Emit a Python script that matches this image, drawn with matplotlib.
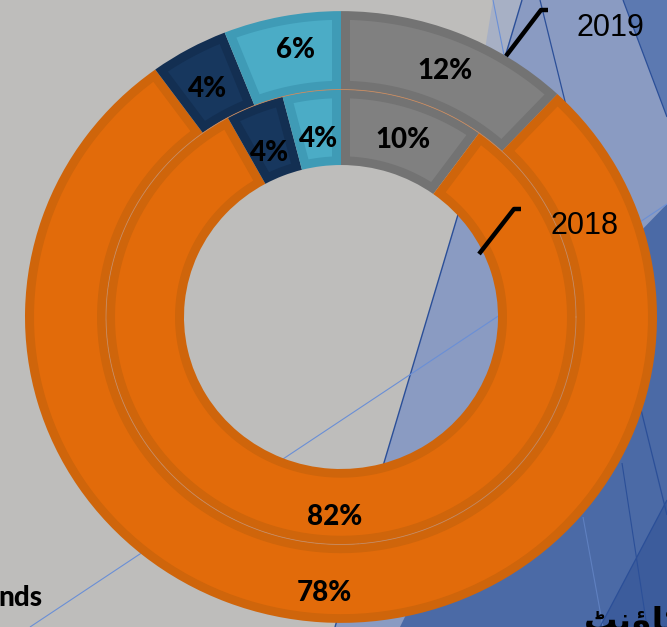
import numpy as np
import matplotlib
matplotlib.use("Agg")
import matplotlib.pyplot as plt
from matplotlib.patches import Polygon

# ---- data ----
categories = ["Grey", "Orange", "Navy", "Light blue"]
values_2019 = [12, 78, 4, 6]     # outer ring
values_2018 = [10, 82, 4, 4]     # inner ring
series_names = ["2019", "2018"]

face_colors = ["#808080", "#e26b0a", "#17375e", "#4bacc6"]
edge_colors = ["#737373", "#cf650b", "#132f52", "#3f9bb6"]

W, H = 667, 627
CX, CY = 341, 317          # centre in pixels
SY = 0.968                 # vertical squash of the original picture

def P(px, py):
    """pixel coords -> data coords"""
    return (px - CX, (CY - py) / SY)

fig = plt.figure(figsize=(W / 100, H / 100), dpi=100)
fig.patch.set_facecolor("#bebdbb")
ax = fig.add_axes([0, 0, 1, 1])
ax.set_facecolor("#bebdbb")

# ---- background decoration ----
def poly(pts, color, z=0):
    ax.add_patch(Polygon([P(*p) for p in pts], closed=True, facecolor=color,
                         edgecolor="none", zorder=z))

def line(p1, p2, color, lw, z=0.5):
    a, b = P(*p1), P(*p2)
    ax.plot([a[0], b[0]], [a[1], b[1]], color=color, lw=lw, zorder=z,
            solid_capstyle="butt")

poly([(493, 0), (522, 0), (500, 80), (480, 80)], "#a7b0c5")
poly([(522, 0), (667, 0), (667, 627), (335, 627)], "#8a9bc2")
poly([(623, 0), (667, 0), (667, 117)], "#5c79b1")
poly([(667, 204), (667, 627), (400, 627), (545, 330)], "#4b6aa6")
poly([(667, 500), (667, 627), (600, 627)], "#3c5c9c")
line((522, 0), (335, 627), "#2b4f98", 1.0)
line((30, 627), (667, 204), "#6a8fd6", 0.8)
line((493, 0), (505, 60), "#6a8fd6", 0.8)
line((540, 0), (667, 515), "#2b4f98", 0.9)
line((623, 0), (667, 117), "#2b4f98", 0.9)
line((583, 517), (603, 627), "#5f80c0", 0.8)
line((622, 463), (647, 627), "#2b4f98", 0.8)
line((667, 500), (600, 627), "#2b4f98", 0.9)

# ---- rings ----
R_OUT, R_MID, R_IN = 316, 235, 157
BORDER = 9
rings = [(values_2019, R_OUT, R_MID), (values_2018, R_MID, R_IN)]
# small pixel nudges (dx, dy) of the value labels, as placed in the original
nudges = [[(3, 2), (1, 10), (-1, 6), (6, -5)],
          [(1, 3), (6, 11), (1, 12), (2, 10)]]
label_font = dict(family="Lato", weight="black", size=20, color="black")

def inset_segment(t1, t2, r_o, r_i, d):
    t1, t2 = np.deg2rad(t1), np.deg2rad(t2)
    ro, ri = r_o - d, r_i + d
    ao, ai = np.arcsin(d / ro), np.arcsin(d / ri)
    a_out = np.linspace(t1 + ao, t2 - ao, 120)
    a_in = np.linspace(t2 - ai, t1 + ai, 120)
    xs = np.concatenate([ro * np.cos(a_out), ri * np.cos(a_in)])
    ys = np.concatenate([ro * np.sin(a_out), ri * np.sin(a_in)])
    return np.column_stack([xs, ys])

for (vals, r_o, r_i), nud in zip(rings, nudges):
    wedges, _ = ax.pie(vals, radius=r_o, startangle=90, counterclock=False,
                       colors=edge_colors,
                       wedgeprops=dict(width=r_o - r_i, linewidth=0))
    for w, fc, v, (ndx, ndy) in zip(wedges, face_colors, vals, nud):
        w.set_zorder(2)
        ax.add_patch(Polygon(inset_segment(w.theta1, w.theta2, r_o, r_i, BORDER),
                             closed=True, facecolor=fc, edgecolor="none", zorder=2.5))
        mid = np.deg2rad((w.theta1 + w.theta2) / 2)
        rm = (r_o + r_i) / 2
        ax.text(rm * np.cos(mid) + ndx, rm * np.sin(mid) - ndy / SY, f"{v}%",
                ha="center", va="center", zorder=4, **label_font)

# thin separating line between the rings
th = np.linspace(0, 2 * np.pi, 400)
ax.plot(R_MID * np.cos(th), R_MID * np.sin(th), color="#c98a5e", lw=0.6, zorder=3)

# ---- series labels with leader lines ----
for name, (a, b, c, tx, ty) in zip(series_names,
                                   [((506, 56), (541, 10), (548, 10), 576, 28),
                                    ((479, 254), (514, 209), (521, 209), 550, 226)]):
    xs, ys = zip(*[P(*a), P(*b), P(*c)])
    ax.plot(xs, ys, color="black", lw=3.2, zorder=5, solid_capstyle="butt")
    ax.text(*P(tx, ty), name, ha="left", va="center", fontsize=22,
            family="Liberation Sans", color="black", zorder=5)

# cut-off texts at the borders of the picture
ax.text(*P(-2, 598), "nds", ha="left", va="center", fontsize=20,
        family="Lato", weight="black", color="black", zorder=5)
ax.text(*P(584, 606), "\ufb67\ufee7\ufe85\ufe8e\ufb90\ufe8d", ha="left", va="top",
        fontsize=24, family="DejaVu Sans", weight="bold", color="black", zorder=5)

ax.set_aspect("auto")
ax.set_xlim(-CX, W - CX)
ax.set_ylim((CY - H) / SY, CY / SY)
ax.axis("off")

fig.savefig("out.png", dpi=100, facecolor=fig.get_facecolor())
